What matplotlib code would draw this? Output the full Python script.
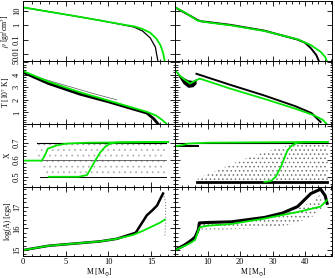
import numpy as np
import matplotlib
matplotlib.use( 'Agg' )
import matplotlib.pyplot as plt
from matplotlib.ticker import MultipleLocator, LogLocator, NullFormatter, FixedLocator

plt.rcParams['font.family'] = ['Liberation Serif', 'DejaVu Serif']
plt.rcParams['mathtext.fontset'] = 'stix'
plt.rcParams['hatch.linewidth'] = 0.6

# ---- left star (M ~ 17 Msun) ----
rho_l_m_green = [ 0, 3, 6, 9, 12, 13, 14, 14.9, 15.6, 16.1, 16.4, 16.6 ]
rho_l_green = [ 18, 9, 4.5, 2.2, 1.05, 0.85, 0.55, 0.3, 0.12, 0.04, 0.012, 0.003 ]
rho_l_m_black = [ 0, 3, 6, 9, 12, 13, 14, 14.9, 15.5, 15.8 ]
rho_l_black = [ 18, 9, 4.5, 2.2, 1.0, 0.75, 0.4, 0.13, 0.03, 0.003 ]

t_l_m_green = [ 0, 3, 6.7, 10, 13, 14.5, 15.6, 16.3, 16.8 ]
t_l_green = [ 4.3, 3.45, 2.6, 1.95, 1.35, 1.05, 0.75, 0.4, 0.1 ]
t_l_m_black = [ 0, 3, 6.7, 10, 13, 14.5, 15.3, 15.8 ]
t_l_black = [ 4.2, 3.3, 2.45, 1.85, 1.25, 0.95, 0.5, 0.1 ]
t_l_m_thread = [ 2, 5, 8, 11 ]
t_l_thread = [ 3.75, 3.15, 2.55, 2.0 ]

x_l_m_green1 = [ 0, 2.2, 2.6, 2.9, 4.0, 5.1, 7.5, 17 ]
x_l_green1 = [ 0.595, 0.595, 0.63, 0.665, 0.685, 0.695, 0.7, 0.705 ]
x_l_m_green2 = [ 3, 6.5, 7.5, 8.4, 9.0, 9.6, 10.2, 11, 17 ]
x_l_green2 = [ 0.5, 0.5, 0.51, 0.59, 0.64, 0.675, 0.695, 0.702, 0.705 ]
x_l_m_cloud = [ 1.6, 3, 6, 10, 14, 16.7 ]
x_l_cloud_lo = [ 0.6, 0.5, 0.5, 0.5, 0.5, 0.5 ]
x_l_cloud_hi = [ 0.7, 0.7, 0.7, 0.7, 0.7, 0.7 ]

a_l_m_green = [ 0, 3, 6, 9, 11, 12.9, 14, 14.9, 16, 16.6 ]
a_l_green = [ 15.0, 15.2, 15.3, 15.4, 15.52, 15.7, 15.88, 16.05, 16.25, 16.4 ]
a_l_m_black = [ 0, 3, 6, 9, 11, 13.2, 14.5, 15.2, 15.7, 16.2, 16.4 ]
a_l_black = [ 15.0, 15.2, 15.3, 15.4, 15.52, 15.8, 16.6, 16.85, 17.05, 17.45, 17.6 ]
a_l_m_col = [ 16.4, 16.7, 16.7, 16.6 ]
a_l_col = [ 17.6, 17.2, 16.2, 15.6 ]

# ---- right star (M ~ 47 Msun) ----
rho_r_m_green = [ 0, 3, 7, 10, 17.3, 27.5, 37.7, 41.8, 44.8, 46.2, 46.8 ]
rho_r_green = [ 18, 8, 2.1, 1.6, 0.98, 0.4, 0.105, 0.041, 0.014, 0.006, 0.003 ]
rho_r_m_black = [ 0, 3, 5, 7, 8, 10, 17.3, 27.5, 37.7, 40, 41.8, 43.5, 44.3 ]
rho_r_black = [ 18, 7.5, 4.2, 2.3, 1.9, 1.7, 1.05, 0.42, 0.1, 0.06, 0.025, 0.008, 0.003 ]

t_r_m_green = [ 0, 2, 4.6, 6, 7.6, 17, 27.5, 37, 43, 45.5, 46.8 ]
t_r_green = [ 4.35, 3.8, 3.3, 3.5, 3.7, 2.9, 2.08, 1.3, 0.75, 0.4, 0.05 ]
t_r_m_black = [ 6.6, 17, 27.5, 37, 42, 44.8 ]
t_r_black = [ 4.08, 3.2, 2.35, 1.5, 0.95, 0.24 ]
t_r_m_blob = [ 1, 2.5, 4, 5.5, 6.5 ]
t_r_blob_lo = [ 3.9, 3.3, 3.0, 3.05, 3.3 ]
t_r_blob_hi = [ 4.1, 3.8, 3.6, 3.55, 3.7 ]

x_r_m_green1 = [ 0, 2, 4, 10, 30, 47 ]
x_r_green1 = [ 0.68, 0.685, 0.695, 0.7, 0.703, 0.705 ]
x_r_m_green2 = [ 27.5, 29.5, 31, 32.6, 34.6, 36, 37.7, 40, 47 ]
x_r_green2 = [ 0.47, 0.475, 0.5, 0.56, 0.655, 0.685, 0.7, 0.703, 0.705 ]
x_r_m_black1 = [ 0, 7 ]
x_r_black1 = [ 0.683, 0.683 ]
x_r_m_band = [ 6.7, 46.8 ]
x_r_band = [ 0.47, 0.47 ]
x_r_m_cloud = [ 7, 12, 18, 25, 32, 38, 42, 47 ]
x_r_cloud_hi = [ 0.49, 0.53, 0.58, 0.63, 0.67, 0.7, 0.7, 0.7 ]

a_r_m_green = [ 0, 3.1, 5, 6.2, 7.2, 7.6, 10, 17.3, 27.5, 37.7, 44.8, 46.8 ]
a_r_green = [ 15.0, 15.2, 15.35, 15.47, 15.92, 16.05, 16.12, 16.2, 16.45, 16.75, 17.0, 17.3 ]
a_r_m_black = [ 0, 3.1, 5, 6.2, 7.2, 7.5, 10, 17.3, 27.5, 33, 37.7, 41.8, 44.8, 46.2, 46.8 ]
a_r_black = [ 15.0, 15.25, 15.45, 15.6, 15.95, 16.25, 16.27, 16.3, 16.5, 16.7, 17.0, 17.6, 17.8, 17.5, 17.15 ]
a_r_m_cloud = [ 8, 15, 25, 35, 42, 45 ]
a_r_cloud_lo = [ 15.95, 15.95, 16.0, 16.15, 16.5, 16.9 ]
a_r_cloud_hi = [ 16.2, 16.25, 16.45, 16.75, 17.2, 17.6 ]

GREEN = '#00e600'
W, H = 335, 278
cols = [ ( 23, 175, 17.8 ), ( 175, 332, 48.3 ) ]
rows = [ ( 1, 61 ), ( 61, 124 ), ( 124, 187 ), ( 187, 256 ) ]
FS = 6
LFS = 5.5

fig = plt.figure( figsize=( W / 100, H / 100 ), dpi=100 )

def make_axes( c, r ):
    x0, x1, xmax = cols[ c ]
    y0, y1 = rows[ r ]
    ax = fig.add_axes( [ x0 / W, 1 - y1 / H, ( x1 - x0 ) / W, ( y1 - y0 ) / H ] )
    ax.set_xlim( 0, xmax )
    if c == 0:
        ax.xaxis.set_major_locator( MultipleLocator( 5 ) )
        ax.xaxis.set_minor_locator( MultipleLocator( 1 ) )
    else:
        ax.xaxis.set_major_locator( MultipleLocator( 10 ) )
        ax.xaxis.set_minor_locator( MultipleLocator( 2 ) )
    ax.tick_params( which='both', direction='in', top=True, right=True, labelsize=FS, pad=1.5, width=0.6 )
    ax.tick_params( which='major', length=3.5 )
    ax.tick_params( which='minor', length=1.8 )
    for s in ax.spines.values():
        s.set_linewidth( 0.7 )
    if r < 3:
        ax.tick_params( labelbottom=False )
    else:
        ax.set_xlabel( r'M [M$_{\odot}$]', fontsize=LFS, labelpad=0 )
        if c == 1:
            ax.set_xticks( [ 10, 20, 30, 40 ] )
    if c == 1:
        ax.tick_params( labelleft=False )
    return ax

def rot_labels( ax ):
    for lab in ax.get_yticklabels():
        lab.set_rotation( 90 )
        lab.set_va( 'center' )

for c in range( 2 ):
    # density
    ax = make_axes( c, 0 )
    ax.set_yscale( 'log' )
    ax.set_ylim( 10 ** -2.5, 10 ** 1.7 )
    ax.yaxis.set_major_locator( FixedLocator( [ 0.01, 0.1, 1, 10 ] ) )
    ax.yaxis.set_minor_locator( LogLocator( subs=np.arange( 2, 10 ) ) )
    ax.yaxis.set_minor_formatter( NullFormatter() )
    if c == 0:
        ax.set_yticklabels( [ '0.01', '0.1', '1', '10' ] )
        rot_labels( ax )
        ax.set_ylabel( r'$\rho$ [gr/cm$^3$]', fontsize=LFS, labelpad=0.5 )
        ax.plot( rho_l_m_black, rho_l_black, color='black', lw=0.9 )
        ax.plot( rho_l_m_green, rho_l_green, color=GREEN, lw=1.3 )
    else:
        ax.plot( rho_r_m_black, rho_r_black, color='black', lw=1.4 )
        ax.plot( rho_r_m_green, rho_r_green, color=GREEN, lw=1.3 )

    # temperature
    ax = make_axes( c, 1 )
    ax.set_ylim( 0.08, 5.1 )
    ax.yaxis.set_major_locator( MultipleLocator( 1 ) )
    ax.yaxis.set_minor_locator( MultipleLocator( 0.2 ) )
    if c == 0:
        rot_labels( ax )
        ax.set_ylabel( r'T [10$^7$ K]', fontsize=LFS, labelpad=0.5 )
        ax.plot( t_l_m_thread, t_l_thread, color='0.35', lw=0.5 )
        ax.plot( t_l_m_black, t_l_black, color='black', lw=2.0 )
        ax.plot( t_l_m_green, t_l_green, color=GREEN, lw=1.3 )
    else:
        ax.fill_between( t_r_m_blob, t_r_blob_lo, t_r_blob_hi, color='black', lw=0 )
        ax.plot( t_r_m_black, t_r_black, color='black', lw=1.4 )
        ax.plot( t_r_m_green, t_r_green, color=GREEN, lw=1.3 )

    # hydrogen fraction
    ax = make_axes( c, 2 )
    ax.set_ylim( 0.44, 0.81 )
    ax.yaxis.set_major_locator( MultipleLocator( 0.1 ) )
    ax.yaxis.set_minor_locator( MultipleLocator( 0.02 ) )
    if c == 0:
        ax.set_yticks( [ 0.5, 0.6, 0.7 ] )
        ax.set_yticklabels( [ '0.5', '0.6', '0.7' ] )
        rot_labels( ax )
        ax.set_ylabel( 'X', fontsize=LFS, labelpad=0.5 )
        ax.fill_between( x_l_m_cloud, x_l_cloud_lo, x_l_cloud_hi, facecolor='none',
                         edgecolor='0.7', hatch='...', lw=0 )
        ax.plot( [ 1.6, 16.7 ], [ 0.7, 0.7 ], color='black', lw=0.8 )
        ax.plot( [ 0, 16.7 ], [ 0.6, 0.6 ], color='0.3', lw=0.6 )
        ax.plot( [ 2, 16.7 ], [ 0.5, 0.5 ], color='black', lw=0.7 )
        ax.plot( x_l_m_green1, x_l_green1, color=GREEN, lw=1.3 )
        ax.plot( x_l_m_green2, x_l_green2, color=GREEN, lw=1.3 )
    else:
        ax.fill_between( x_r_m_cloud, [ 0.47 ] * len( x_r_m_cloud ), x_r_cloud_hi, facecolor='none',
                         edgecolor='0.45', hatch='....', lw=0 )
        ax.plot( x_r_m_band, x_r_band, color='black', lw=2.0 )
        ax.plot( x_r_m_black1, x_r_black1, color='black', lw=1.4 )
        ax.plot( [ 0, 47 ], [ 0.7, 0.7 ], color='black', lw=0.8 )
        ax.plot( x_r_m_green1, x_r_green1, color=GREEN, lw=1.3 )
        ax.plot( x_r_m_green2, x_r_green2, color=GREEN, lw=1.3 )

    # entropy
    ax = make_axes( c, 3 )
    ax.set_ylim( 14.73, 17.9 )
    ax.yaxis.set_major_locator( MultipleLocator( 1 ) )
    ax.yaxis.set_minor_locator( MultipleLocator( 0.2 ) )
    if c == 0:
        rot_labels( ax )
        ax.set_ylabel( 'log(A) [cgs]', fontsize=LFS, labelpad=0.5 )
        ax.plot( a_l_m_col, a_l_col, color='0.55', lw=0.8, ls=':' )
        ax.plot( a_l_m_black, a_l_black, color='black', lw=1.8 )
        ax.plot( a_l_m_green, a_l_green, color=GREEN, lw=1.3 )
    else:
        ax.fill_between( a_r_m_cloud, a_r_cloud_lo, a_r_cloud_hi, facecolor='none',
                         edgecolor='0.45', hatch='....', lw=0 )
        ax.plot( a_r_m_black, a_r_black, color='black', lw=2.2 )
        ax.plot( a_r_m_green, a_r_green, color=GREEN, lw=1.3 )

fig.savefig( 'out.png', dpi=100 )
